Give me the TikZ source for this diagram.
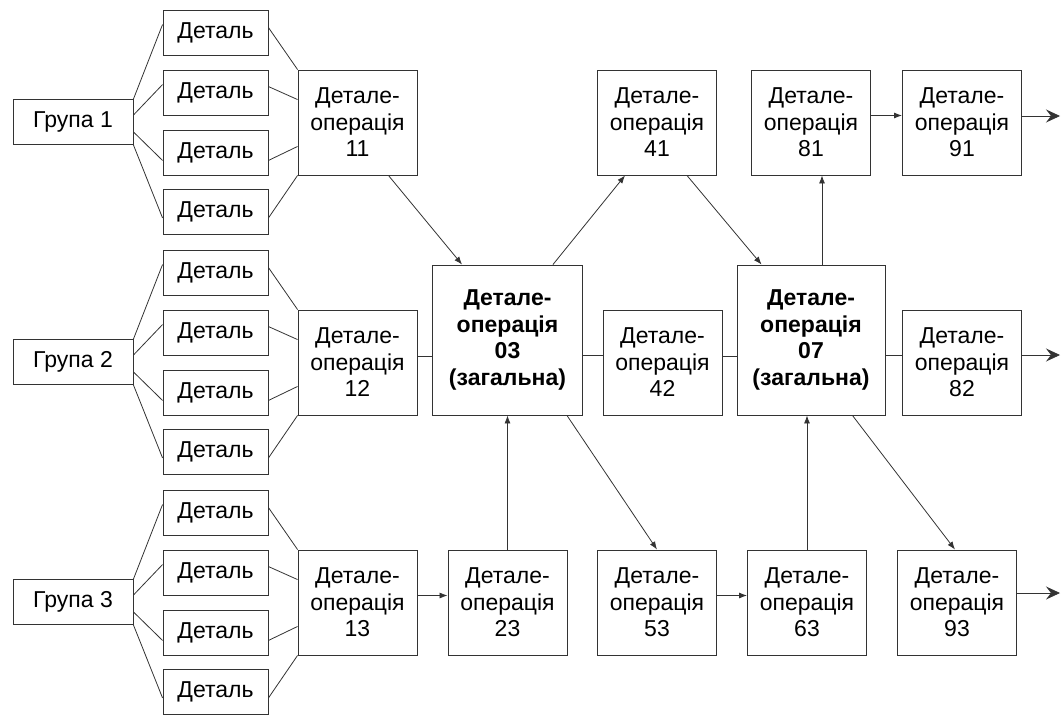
\documentclass[tikz,border=0pt]{standalone}
\usepackage{fontspec}
\setmainfont{Liberation Sans}
\usetikzlibrary{arrows.meta}
\begin{document}
\begin{tikzpicture}[x=1pt,y=-1pt,
 box/.style={draw=black!80, line width=0.9pt, fill=white, inner sep=0pt, align=center, font=\fontsize{23}{26.5}\selectfont, text=black},
 grp/.style={box, minimum width=120pt, minimum height=45pt},
 det/.style={box, minimum width=105pt, minimum height=45pt},
 op/.style={box, minimum width=119pt, minimum height=105pt},
 big/.style={box, minimum width=150pt, minimum height=150pt, font=\fontsize{23}{26.5}\selectfont\bfseries},
 ln/.style={draw=black!80, line width=0.8pt},
 arr/.style={ln, -{Latex[length=8pt,width=6pt]}},
 outarr/.style={ln, -{Stealth[length=14pt,width=13pt,inset=5pt]}}
]
\useasboundingbox (0,0) rectangle (1063,715);

\foreach \r/\b in {1/0,2/240,3/480}{
  \node[grp] (g\r) at (73,122+\b) {Група \r};
  \node[det] (d\r1) at (215.5,32.5+\b) {Деталь};
  \node[det] (d\r2) at (215.5,92.5+\b) {Деталь};
  \node[det] (d\r3) at (215.5,152.5+\b) {Деталь};
  \node[det] (d\r4) at (215.5,212+\b) {Деталь};
  \node[op] (o1\r) at (357.5,122.5+\b) {Детале-\\операція\\1\r};
  \draw[ln] (g\r.north east) -- ([yshift=-15pt]d\r1.north west);
  \draw[ln] ([yshift=-16pt]g\r.north east) -- ([yshift=-15pt]d\r2.north west);
  \draw[ln] ([yshift=13pt]g\r.south east) -- ([yshift=15pt]d\r3.south west);
  \draw[ln] (g\r.south east) -- ([yshift=17pt]d\r4.south west);
  \draw[ln] ([yshift=-18pt]d\r1.north east) -- (o1\r.north west);
  \draw[ln] ([yshift=-17pt]d\r2.north east) -- ([yshift=-30pt]o1\r.north west);
  \draw[ln] ([yshift=15pt]d\r3.south east) -- ([yshift=29pt]o1\r.south west);
  \draw[ln] ([yshift=17pt]d\r4.south east) -- (o1\r.south west);
}

\node[op] (o23) at (507.5,602.5) {Детале-\\операція\\23};
\node[big] (o03) at (507.5,340) {Детале-\\операція\\03\\(загальна)};
\node[op] (o42) at (662.5,362.5) {Детале-\\операція\\42};
\node[big, minimum width=148pt] (o07) at (811,340) {Детале-\\операція\\07\\(загальна)};
\node[op] (o41) at (657,122.5) {Детале-\\операція\\41};
\node[op] (o81) at (811,122.5) {Детале-\\операція\\81};
\node[op] (o91) at (962,122.5) {Детале-\\операція\\91};
\node[op] (o82) at (962,362.5) {Детале-\\операція\\82};
\node[op] (o53) at (657,602.5) {Детале-\\операція\\53};
\node[op] (o63) at (807,602.5) {Детале-\\операція\\63};
\node[op] (o93) at (957,602.5) {Детале-\\операція\\93};

\coordinate (e1) at (1060,116);
\coordinate (e2) at (1060,355);
\coordinate (e3) at (1060,593);

% middle row plain links
\draw[ln] ([yshift=6pt]o12.east) -- ([yshift=6pt]o12.east -| o03.west);
\draw[ln] ([yshift=7pt]o42.west -| o03.east) -- ([yshift=7pt]o42.west);
\draw[ln] ([yshift=6pt]o42.east) -- ([yshift=6pt]o42.east -| o07.west);
\draw[ln] ([yshift=7pt]o82.west -| o07.east) -- ([yshift=7pt]o82.west);

% arrows
\draw[arr] ([xshift=-29pt]o11.south east) -- ([xshift=30pt]o03.north west);
\draw[arr] ([xshift=-30pt]o03.north east) -- ([xshift=28pt]o41.south west);
\draw[arr] ([xshift=-30pt]o41.south east) -- ([xshift=25pt]o07.north west);
\draw[arr] ([xshift=11pt]o07.north) -- ([xshift=11pt]o81.south);
\draw[arr] ([yshift=7pt]o81.east) -- ([yshift=7pt]o91.west);
\draw[arr] ([yshift=7pt]o13.east) -- ([yshift=7pt]o23.west);
\draw[arr] (o23.north) -- (o03.south);
\draw[arr] ([xshift=-16pt]o03.south east) -- (o53.north);
\draw[arr] ([yshift=7pt]o53.east) -- ([yshift=7pt]o63.west);
\draw[arr] (o63.north) -- (o63.north |- o07.south);
\draw[arr] ([xshift=-33pt]o07.south east) -- ([xshift=-2pt]o93.north);

% outputs
\draw[outarr] (o91.east |- e1) -- (e1);
\draw[outarr] (o82.east |- e2) -- (e2);
\draw[outarr] (o93.east |- e3) -- (e3);
\end{tikzpicture}
\end{document}
